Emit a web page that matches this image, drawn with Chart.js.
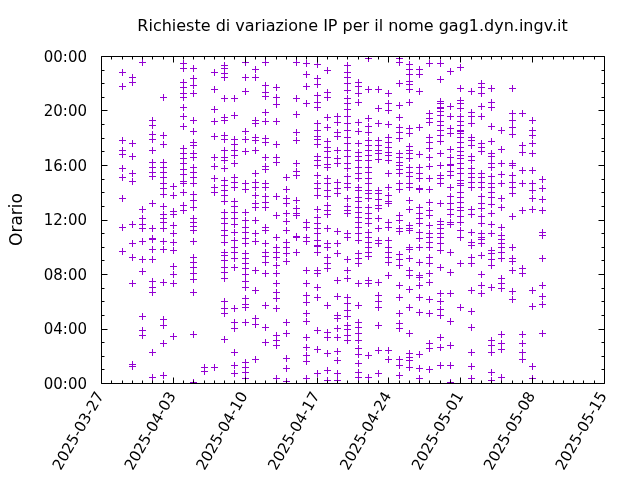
<!DOCTYPE html>
<html>
<head>
<meta charset="utf-8">
<script src="https://cdn.jsdelivr.net/npm/chart.js@4.4.1/dist/chart.umd.min.js"></script>
<style>
  html, body { margin: 0; padding: 0; background: #fff; }
  canvas { display: block; }
</style>
</head>
<body>
<canvas id="ipChart" width="640" height="480"></canvas>
<script>
// Richieste di variazione IP: ore (decimali) per ogni giorno
const chartTitle = 'Richieste di variazione IP per il nome gag1.dyn.ingv.it';
const startDate = '2025-03-27';
const dates = [
  '2025-03-29', '2025-03-30', '2025-03-31', '2025-04-01', '2025-04-02', '2025-04-03',
  '2025-04-04', '2025-04-05', '2025-04-06', '2025-04-07', '2025-04-08', '2025-04-09',
  '2025-04-10', '2025-04-11', '2025-04-12', '2025-04-13', '2025-04-14', '2025-04-15',
  '2025-04-16', '2025-04-17', '2025-04-18', '2025-04-19', '2025-04-20', '2025-04-21',
  '2025-04-22', '2025-04-23', '2025-04-24', '2025-04-25', '2025-04-26', '2025-04-27',
  '2025-04-28', '2025-04-29', '2025-04-30', '2025-05-01', '2025-05-02', '2025-05-03',
  '2025-05-04', '2025-05-05', '2025-05-06', '2025-05-07', '2025-05-08', '2025-05-09'
];

const h0329 = [22.85, 21.8, 17.83, 17.1, 16.78, 15.76, 15.12, 13.58, 11.43, 9.69];
const h0330 = [22.48, 22.09, 17.59, 16.66, 15.44, 14.85, 11.67, 10.25, 9.27, 7.32, 1.4, 1.25];
const h0331 = [23.58, 12.75, 12.13, 11.67, 11.35, 10.4, 9.08, 8.22, 4.94, 3.87, 3.5];
const h0401 = [19.3, 18.91, 18.28, 17.88, 17.1, 16.24, 15.88, 15.49, 15.19, 13.24, 11.35, 10.67, 10.6, 9.81, 9.1, 7.51, 7.07, 6.68, 2.25, 0.46];
const h0402 = [21.0, 18.18, 17.52, 16.24, 15.88, 15.49, 15.1, 14.7, 14.29, 13.87, 12.99, 12.38, 12.13, 11.82, 11.35, 10.4, 9.81, 7.39, 4.67, 4.23, 2.91, 0.59];
const h0403 = [14.48, 13.82, 12.62, 12.38, 11.6, 10.98, 10.37, 9.76, 8.59, 8.0, 7.34, 3.45];
const h0404 = [23.46, 23.1, 22.07, 21.7, 21.26, 20.97, 20.23, 19.6, 18.86, 17.22, 16.86, 16.49, 16.12, 15.73, 15.34, 14.83, 14.65, 14.04, 13.06, 12.7];
const h0405 = [23.1, 22.36, 21.87, 21.26, 19.3, 18.5, 17.71, 17.47, 16.86, 16.56, 15.88, 15.51, 15.14, 14.65, 13.87, 13.43, 12.94, 12.13, 11.84, 11.52, 11.23, 10.45, 9.27, 8.9, 8.54, 8.05, 7.66, 6.65, 3.57, 0.1];
const h0406 = [1.2, 0.9];
const h0407 = [22.8, 21.55, 20.09, 19.23, 18.15, 16.56, 15.95, 15.02, 14.41, 14.04, 1.15];
const h0408 = [23.34, 23.1, 22.78, 22.48, 20.89, 19.55, 19.3, 18.2, 17.88, 17.1, 16.61, 16.37, 15.76, 14.9, 14.53, 14.17, 13.8, 13.38, 12.53, 12.09, 11.72, 11.23, 10.86, 10.37, 9.64, 9.39, 9.03, 8.54, 8.17, 7.68, 6.04, 5.48, 5.11, 3.2];
const h0409 = [20.89, 19.67, 17.88, 17.52, 17.1, 16.73, 16.12, 15.14, 14.78, 14.36, 13.38, 12.99, 12.57, 12.09, 11.67, 11.11, 10.5, 10.0, 9.64, 9.15, 8.54, 5.48, 4.5, 4.01, 2.3, 1.32, 0.76];
const h0410 = [23.58, 22.43, 21.46, 18.5, 17.88, 17.03, 14.65, 14.21, 12.57, 11.96, 11.47, 11.11, 10.62, 10.25, 9.52, 9.15, 8.78, 8.42, 8.0, 7.51, 7.02, 6.21, 5.8, 5.55, 4.5, 1.57, 1.2, 0.83, 0.34];
const h0411 = [23.02, 22.48, 19.3, 19.1, 18.08, 17.83, 17.1, 15.39, 14.78, 14.41, 13.8, 13.19, 12.94, 11.96, 10.98, 10.45, 8.29, 6.83, 4.75, 4.33, 1.74];
const h0412 = [23.58, 21.87, 21.38, 21.06, 19.91, 19.25, 17.96, 17.71, 16.61, 15.93, 15.68, 14.65, 14.41, 13.72, 13.31, 12.94, 11.47, 11.23, 10.25, 9.64, 9.32, 8.9, 8.05, 5.72, 4.13, 3.03];
const h0413 = [21.75, 21.02, 20.48, 19.25, 17.52, 16.61, 16.2, 13.72, 12.33, 10.74, 10.0, 9.64, 9.27, 8.66, 8.05, 7.32, 6.7, 6.21, 5.48, 3.52, 3.16, 2.79, 0.34];
const h0414 = [15.14, 14.21, 13.55, 13.19, 12.45, 11.91, 11.23, 10.37, 10.0, 9.52, 8.98, 4.5, 3.69, 1.81, 1.13, 0.15];
const h0415 = [23.58, 20.89, 19.74, 18.45, 17.83, 16.17, 15.58, 15.27, 13.43, 12.82, 12.45, 12.35, 10.78, 10.7, 9.64];
const h0416 = [23.51, 22.65, 21.8, 20.57, 11.84, 11.47, 10.69, 10.45, 8.29, 7.32, 6.46, 5.97, 5.11, 4.57, 3.35, 2.67, 2.06, 1.64, 0.34];
const h0417 = [23.41, 22.36, 21.92, 21.14, 20.65, 20.23, 19.1, 18.57, 18.13, 17.88, 17.52, 16.66, 16.37, 16.0, 15.27, 14.65, 14.29, 13.8, 12.75, 12.21, 11.72, 11.35, 10.98, 10.5, 10.1, 10.02, 9.64, 8.29, 8.1, 7.02, 6.34, 3.89, 2.47, 0.71];
const h0418 = [22.97, 21.38, 21.02, 19.5, 18.76, 17.79, 17.35, 17.05, 16.61, 16.07, 15.83, 15.02, 14.65, 14.17, 13.72, 13.06, 12.7, 12.4, 11.35, 10.3, 10.0, 9.27, 8.78, 8.42, 5.72, 3.77, 3.35, 2.18, 0.95, 0.22];
const h0419 = [19.6, 19.18, 18.45, 18.13, 17.1, 16.49, 16.12, 14.78, 14.29, 13.92, 11.18, 10.25, 9.52, 7.56, 6.39, 4.99, 4.75, 4.01, 3.4, 2.35, 1.69, 0.76, 0.22];
const h0420 = [23.34, 22.85, 22.48, 21.99, 21.5, 20.89, 20.53, 20.09, 19.6, 19.06, 18.57, 18.08, 17.59, 17.1, 16.66, 16.17, 15.76, 15.19, 14.65, 14.41, 13.55, 12.99, 12.7, 12.45, 10.98, 10.74, 9.08, 8.29, 7.68, 6.34, 5.85, 5.36, 4.92, 4.26, 3.94, 3.52, 3.16];
const h0421 = [22.12, 21.8, 21.31, 20.65, 19.18, 18.52, 17.59, 16.98, 16.66, 16.37, 15.88, 15.39, 15.02, 14.41, 14.17, 13.68, 13.38, 12.94, 12.57, 12.21, 11.84, 11.43, 11.03, 10.5, 9.52, 9.15, 8.78, 7.36, 5.72, 4.5, 4.13, 3.65, 3.16, 2.54, 2.13, 1.44, 0.83, 0.46];
const h0422 = [23.83, 21.55, 19.43, 18.86, 18.45, 17.83, 17.47, 17.1, 16.73, 16.37, 15.88, 15.51, 15.02, 14.65, 14.17, 13.92, 13.55, 12.94, 12.45, 12.09, 11.72, 11.11, 10.74, 10.37, 10.0, 9.64, 9.32, 7.56, 7.32, 2.06, 0.42];
const h0423 = [21.55, 20.16, 19.1, 17.83, 17.47, 17.1, 16.86, 16.42, 14.17, 13.92, 13.48, 13.06, 12.82, 12.09, 11.35, 10.5, 10.25, 7.44, 6.46, 6.04, 5.6, 4.26, 2.42, 0.76];
const h0424 = [21.26, 20.53, 20.04, 19.01, 18.03, 17.71, 17.35, 16.98, 16.73, 16.37, 15.44, 14.41, 13.8, 13.38, 13.19, 11.84, 11.47, 10.5, 10.0, 9.64, 9.27, 8.9, 7.93, 2.42, 1.74];
const h0425 = [23.83, 23.58, 22.04, 20.4, 19.55, 18.76, 18.45, 17.96, 16.86, 16.56, 16.24, 16.0, 15.68, 15.39, 14.65, 14.21, 12.33, 11.96, 11.35, 11.18, 9.47, 9.08, 8.66, 7.19, 6.34, 5.11, 4.38, 4.01, 1.74, 1.32, 0.59];
const h0426 = [23.41, 23.02, 22.68, 22.19, 21.94, 21.55, 20.65, 18.69, 18.32, 17.39, 17.1, 16.86, 16.49, 15.88, 15.51, 15.19, 14.7, 14.36, 13.43, 12.75, 11.6, 11.35, 11.23, 10.0, 9.81, 9.15, 8.29, 7.93, 6.87, 5.6, 3.65, 2.18, 1.93, 1.69, 1.15];
const h0427 = [23.02, 22.68, 21.46, 18.76, 16.81, 15.88, 15.44, 15.02, 14.33, 14.25, 12.94, 12.45, 12.09, 11.72, 11.11, 10.62, 10.0, 8.9, 7.89, 7.81, 7.19, 6.34, 5.24, 2.13, 1.08, 0.34];
const h0428 = [23.51, 19.79, 19.43, 19.18, 18.03, 17.71, 17.22, 16.61, 15.93, 15.02, 14.21, 13.31, 12.7, 12.33, 11.6, 11.03, 10.74, 10.37, 10.0, 9.27, 8.78, 8.05, 7.44, 6.14, 5.16, 2.96, 2.59, 1.0];
const h0429 = [23.51, 22.29, 20.72, 20.53, 20.27, 20.19, 19.99, 19.67, 19.25, 18.94, 18.57, 18.2, 17.79, 16.86, 16.0, 15.27, 15.02, 14.65, 13.19, 11.91, 11.67, 11.35, 11.03, 10.69, 10.3, 9.76, 8.49, 6.63, 6.04, 5.41, 4.99, 3.4, 2.67, 1.32];
const h0430 = [22.92, 20.33, 19.6, 18.69, 18.37, 17.15, 16.56, 16.11, 16.03, 15.58, 15.27, 14.41, 13.72, 13.19, 12.75, 12.4, 11.84, 11.67, 9.64, 8.17, 6.63, 4.57, 2.79, 1.32, 0.05];
const h0501 = [23.17, 21.63, 20.77, 20.53, 20.16, 19.6, 19.25, 18.94, 18.56, 18.48, 18.32, 18.03, 17.71, 17.35, 17.05, 16.73, 16.49, 16.12, 15.76, 15.39, 14.9, 14.65, 14.53, 14.04, 13.68, 13.31, 12.94, 12.7, 12.26, 11.84, 11.23, 10.74, 8.83, 5.55];
const h0502 = [21.46, 19.91, 19.6, 19.06, 18.03, 17.83, 17.47, 16.66, 16.37, 15.76, 15.39, 15.14, 14.78, 14.41, 12.75, 12.4, 11.11, 10.37, 10.13, 9.27, 8.78, 6.83, 5.31, 4.09, 2.3, 1.25, 0.34];
const h0503 = [22.04, 21.7, 21.26, 20.33, 19.6, 17.59, 17.35, 17.05, 15.39, 15.14, 14.78, 14.41, 13.72, 13.19, 12.82, 12.26, 11.72, 11.03, 10.74, 10.54, 10.25, 9.39, 8.0, 7.19, 6.63];
const h0504 = [21.63, 20.65, 20.28, 18.86, 17.79, 16.91, 16.66, 16.17, 15.88, 15.19, 14.65, 14.41, 14.04, 13.68, 13.14, 12.45, 11.67, 11.03, 9.76, 9.52, 9.08, 8.66, 7.02, 3.16, 2.79, 2.3, 0.83, 0.22];
const h0505 = [18.57, 17.15, 16.12, 15.34, 14.7, 13.55, 12.89, 11.47, 10.86, 10.54, 10.25, 9.96, 9.64, 9.15, 7.68, 7.36, 6.95, 3.6, 2.91, 2.47, 0.42];
const h0506 = [21.63, 19.79, 19.3, 18.81, 18.28, 16.17, 16.0, 15.27, 14.78, 14.41, 13.92, 12.26, 10.0, 9.15, 8.98, 8.29, 6.78, 6.14];
const h0507 = [19.79, 17.47, 16.98, 15.63, 14.65, 12.7, 8.42, 8.1, 3.6, 2.91, 2.3, 1.74];
const h0508 = [19.3, 18.57, 18.2, 17.59, 16.86, 15.63, 14.65, 14.17, 13.55, 12.75, 6.83, 5.65, 1.25, 0.34];
const h0509 = [14.95, 14.29, 13.48, 12.7, 11.11, 10.86, 9.15, 7.19, 6.39, 5.8, 3.69];

const hoursByDay = [
  h0329, h0330, h0331, h0401, h0402, h0403, h0404, h0405, h0406, h0407, h0408, h0409,
  h0410, h0411, h0412, h0413, h0414, h0415, h0416, h0417, h0418, h0419, h0420, h0421,
  h0422, h0423, h0424, h0425, h0426, h0427, h0428, h0429, h0430, h0501, h0502, h0503,
  h0504, h0505, h0506, h0507, h0508, h0509
];

const DAY = 86400000;
const t0 = Date.parse(startDate + 'T00:00:00Z');

function dayIndex(s) {
  return Math.round((Date.parse(s + 'T00:00:00Z') - t0) / DAY);
}

function dayLabel(v) {
  return new Date(t0 + v * DAY).toISOString().slice(0, 10);
}

const points = [];
dates.forEach((d, i) => {
  hoursByDay[i].forEach(h => points.push({ x: dayIndex(d), y: h }));
});

const font = 'DejaVu Sans';

// croci nitide: allinea i punti (già calcolati dalle scale) al mezzo pixel
const snapPlugin = {
  id: 'snap',
  afterDatasetsUpdate(chart) {
    chart.getDatasetMeta(0).data.forEach(p => {
      p.x = Math.round(p.x) + 0.5;
      p.y = Math.round(p.y) + 0.5;
    });
  }
};

// bordo, tacche interne e titolo centrato sull'area del grafico (come gnuplot)
const framePlugin = {
  id: 'frame',
  afterDatasetsDraw(chart) {
    const { ctx, chartArea: a, scales: { x, y } } = chart;
    ctx.save();
    ctx.strokeStyle = '#000';
    ctx.lineWidth = 1;
    const L = Math.round(a.left) + 0.5, R = Math.round(a.right) + 0.5;
    const T = Math.round(a.top) + 0.5, B = Math.round(a.bottom) + 0.5;
    ctx.beginPath();
    ctx.rect(L, T, R - L, B - T);
    for (let d = 0; d <= 49; d++) {
      const px = Math.round(x.getPixelForValue(d)) + 0.5;
      const len = d % 7 === 0 ? 6 : 3;
      ctx.moveTo(px, B); ctx.lineTo(px, B - len);
      ctx.moveTo(px, T); ctx.lineTo(px, T + len);
    }
    for (let h = 0; h <= 24; h++) {
      const py = Math.round(y.getPixelForValue(h)) + 0.5;
      const len = h % 4 === 0 ? 6 : 3;
      ctx.moveTo(L, py); ctx.lineTo(L + len, py);
      ctx.moveTo(R, py); ctx.lineTo(R - len, py);
    }
    ctx.stroke();

    ctx.fillStyle = '#000';
    ctx.font = '16px "' + font + '"';
    ctx.textAlign = 'center';
    ctx.textBaseline = 'middle';
    ctx.fillText(chartTitle, (a.left + a.right) / 2, 27);
    ctx.restore();
  }
};

new Chart(document.getElementById('ipChart'), {
  type: 'scatter',
  data: {
    datasets: [{
      data: points,
      pointStyle: 'cross',
      pointRadius: 3.5,
      pointBorderWidth: 1,
      borderColor: '#9400d3',
      backgroundColor: '#9400d3'
    }]
  },
  options: {
    responsive: false,
    animation: false,
    devicePixelRatio: 1,
    layout: { padding: { left: 0, right: 36, top: 56, bottom: 0 } },
    plugins: {
      legend: { display: false },
      tooltip: { enabled: false },
      title: { display: false }
    },
    scales: {
      x: {
        type: 'linear',
        min: 0,
        max: 49,
        grid: { display: false, drawTicks: false },
        border: { display: false },
        ticks: {
          stepSize: 7,
          minRotation: 60,
          maxRotation: 60,
          autoSkip: false,
          padding: 6,
          color: '#000',
          font: { family: font, size: 15 },
          callback: v => dayLabel(v)
        },
        afterFit: s => { s.height = 97; }
      },
      y: {
        min: 0,
        max: 24,
        grid: { display: false, drawTicks: false },
        border: { display: false },
        ticks: {
          stepSize: 4,
          padding: 14,
          labelOffset: 2,
          color: '#000',
          font: { family: font, size: 15 },
          callback: v => String(v % 24).padStart(2, '0') + ':00'
        },
        title: {
          display: true,
          text: 'Orario',
          color: '#000',
          font: { family: font, size: 17 },
          padding: { top: 7, bottom: 0 }
        },
        afterFit: s => { s.width = 101; }
      }
    }
  },
  plugins: [snapPlugin, framePlugin]
});
</script>
</body>
</html>
